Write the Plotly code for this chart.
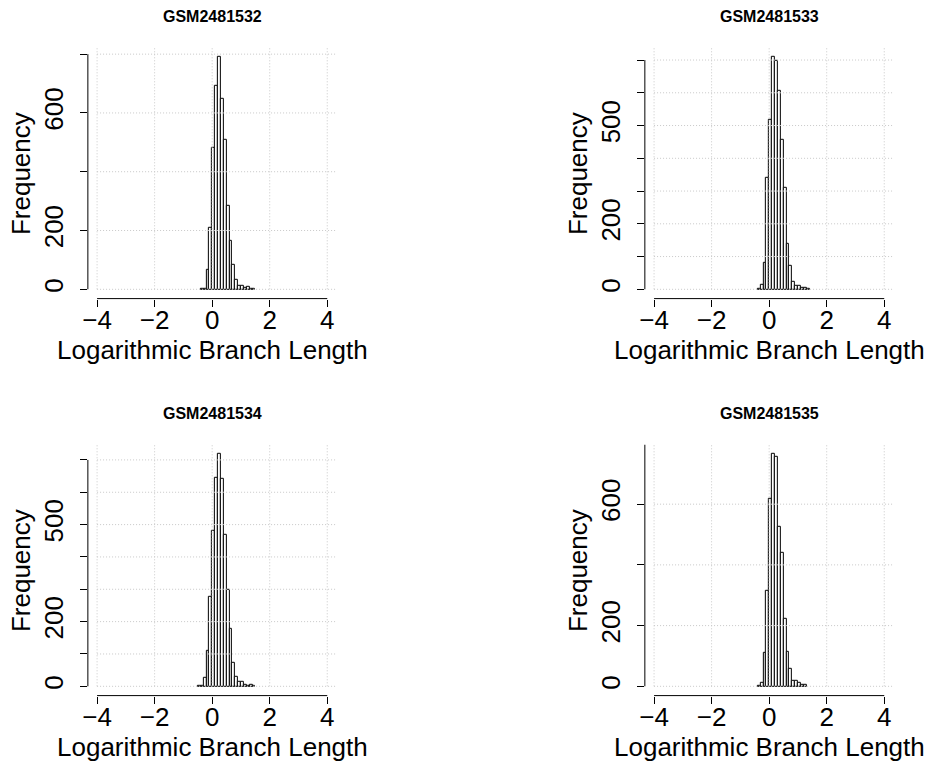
import plotly.graph_objects as go

# ---------------- data ----------------
samples = ["GSM2481532", "GSM2481533", "GSM2481534", "GSM2481535"]
bin_width = 0.1
bin_starts = [-0.4, -0.4, -0.5, -0.4]   # left edge of the first bin of each histogram

counts_1532 = [1, 2, 68, 209, 480, 693, 790, 648, 508, 284, 166, 84, 33, 11, 11, 6, 7, 3, 2]
counts_1533 = [3, 13, 80, 341, 518, 709, 699, 607, 456, 310, 138, 72, 24, 10, 10, 6, 4, 2]
counts_1534 = [2, 1, 26, 111, 277, 481, 644, 718, 642, 470, 298, 179, 74, 29, 15, 14, 6, 3, 6, 1]
counts_1535 = [3, 11, 112, 316, 619, 765, 757, 526, 441, 223, 115, 59, 19, 18, 13, 5, 5]
all_counts = [counts_1532, counts_1533, counts_1534, counts_1535]

x_ticks = [-4, -2, 0, 2, 4]
y_ticks_1532 = [0, 200, 400, 600, 800]
y_labels_1532 = ["0", "200", "", "600", ""]
y_ticks_1533 = [0, 100, 200, 300, 400, 500, 600, 700]
y_labels_1533 = ["0", "", "200", "", "", "500", "", ""]
y_ticks_1534 = [0, 100, 200, 300, 400, 500, 600, 700]
y_labels_1534 = ["0", "", "200", "", "", "500", "", ""]
y_ticks_1535 = [0, 200, 400, 600, 800]
y_labels_1535 = ["0", "200", "", "600", ""]
all_yticks = [y_ticks_1532, y_ticks_1533, y_ticks_1534, y_ticks_1535]
all_ylabels = [y_labels_1532, y_labels_1533, y_labels_1534, y_labels_1535]

x_title = "Logarithmic Branch Length"
y_title = "Frequency"

# ---------------- layout geometry (pixels) ----------------
W, H = 931, 765
col_px = [(82.4, 332.6), (643.0, 893.2)]
row_px = [(47.8, 298.6), (444.8, 695.6)]
FONT = "Liberation Sans, Arial, Helvetica, sans-serif"
GRID = dict(color="#c8c8c8", width=1, dash="1px,2px")

fig = go.Figure()
shapes = []
annotations = []

for i, (name, counts) in enumerate(zip(samples, all_counts)):
    r, c = divmod(i, 2)
    sfx = "" if i == 0 else str(i + 1)
    xa, ya = "x" + sfx, "y" + sfx
    centers = [bin_starts[i] + bin_width * (k + 0.5) for k in range(len(counts))]
    fig.add_trace(go.Bar(
        x=centers, y=counts, width=bin_width,
        marker=dict(color="white", line=dict(color="black", width=1)),
        xaxis=xa, yaxis=ya, showlegend=False, hoverinfo="x+y",
    ))
    M = max(counts)
    yr = [-0.04 * M, 1.04 * M]
    span = x_ticks[-1] - x_ticks[0]
    xr = [x_ticks[0] - 0.04 * span, x_ticks[-1] + 0.04 * span]
    x0, x1 = col_px[c]
    y0, y1 = row_px[r]
    common = dict(
        showgrid=False, zeroline=False, showline=False,
        ticks="outside", ticklen=7, tickwidth=1, tickcolor="black",
        tickfont=dict(family=FONT, size=26, color="black"),
        fixedrange=True,
    )
    fig.layout["xaxis" + sfx] = dict(
        common, domain=[x0 / W, x1 / W], range=xr, anchor=ya,
        tickvals=x_ticks, ticktext=[str(t) if t >= 0 else "\u2212" + str(-t) for t in x_ticks],
        ticklabelstandoff=-9,
    )
    fig.layout["yaxis" + sfx] = dict(
        common, domain=[1 - y1 / H, 1 - y0 / H], range=yr, anchor=xa,
        tickvals=all_yticks[i], ticktext=all_ylabels[i], tickangle=-90,
        ticklabelstandoff=6,
    )
    yt = all_yticks[i]
    # gridlines (dotted, light grey)
    for xv in x_ticks:
        shapes.append(dict(type="line", xref=xa, yref=ya, x0=xv, x1=xv, y0=0, y1=yr[1],
                           line=GRID, layer="above"))
    for yv in yt:
        shapes.append(dict(type="line", xref=xa, yref=ya, x0=x_ticks[0], x1=xr[1], y0=yv, y1=yv,
                           line=GRID, layer="above"))
    # R-style axis lines spanning first to last tick
    shapes.append(dict(type="line", xref=xa, yref=ya + " domain", x0=x_ticks[0], x1=x_ticks[-1], y0=0, y1=0,
                       line=dict(color="black", width=1)))
    shapes.append(dict(type="line", xref=xa + " domain", yref=ya, x0=0, x1=0, y0=yt[0], y1=yt[-1],
                       line=dict(color="black", width=1)))
    # titles
    annotations.append(dict(text="<b>" + name + "</b>", xref=xa + " domain", yref=ya + " domain",
                            x=0.5, y=1, yshift=31, showarrow=False, xanchor="center", yanchor="middle",
                            font=dict(family=FONT, size=16, color="black")))
    annotations.append(dict(text=x_title, xref=xa + " domain", yref=ya + " domain",
                            x=0.5, y=0, yshift=-51, showarrow=False, xanchor="center", yanchor="middle",
                            font=dict(family=FONT, size=26, color="black")))
    annotations.append(dict(text=y_title, xref=xa + " domain", yref=ya + " domain",
                            x=0, y=0.5, xshift=-67, showarrow=False, xanchor="center", yanchor="middle",
                            textangle=-90, font=dict(family=FONT, size=26, color="black")))

fig.update_layout(
    width=W, height=H, margin=dict(l=0, r=0, t=0, b=0),
    paper_bgcolor="white", plot_bgcolor="white",
    shapes=shapes, annotations=annotations, showlegend=False, bargap=0,
    font=dict(family=FONT, color="black"),
)

fig.write_html("out.html")
